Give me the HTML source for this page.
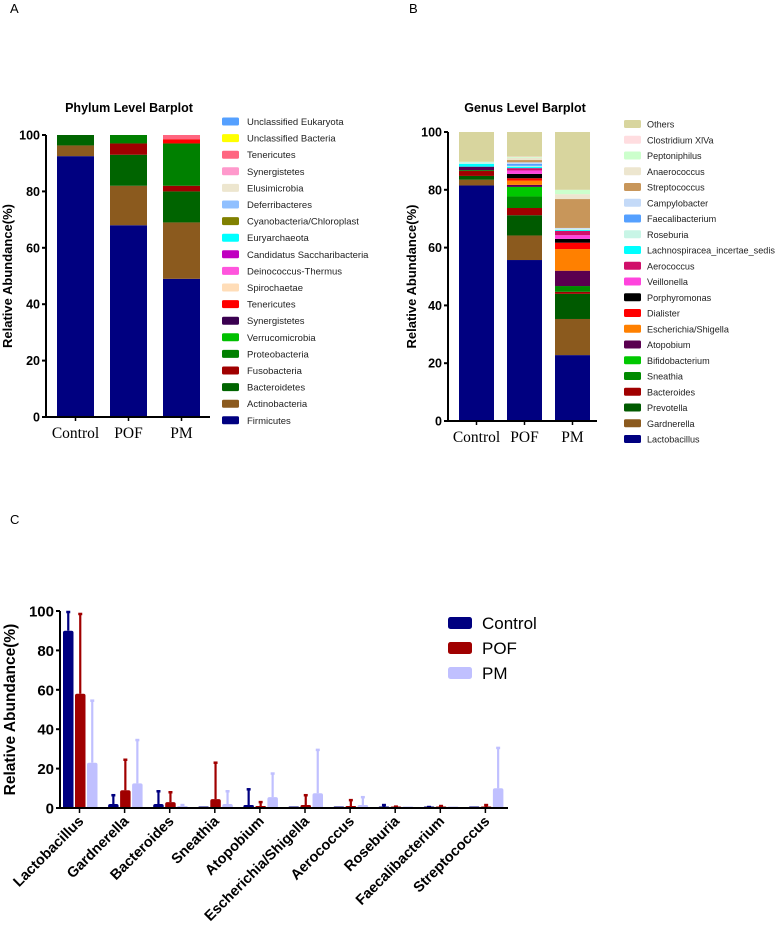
<!DOCTYPE html>
<html><head><meta charset="utf-8"><style>
html,body{margin:0;padding:0;background:#fff;}
svg{display:block;font-family:"Liberation Sans",Arial,sans-serif;}
</style></head><body>
<svg id="svg" width="778" height="928" viewBox="0 0 778 928" xmlns="http://www.w3.org/2000/svg">
<text x="10" y="13" font-size="13">A</text>
<text x="409" y="13" font-size="13">B</text>
<text x="10" y="524" font-size="13">C</text>
<g id="pa"></g>
<g id="pb"></g>
<g id="pc"></g>
</svg>
<script>
const NS="http://www.w3.org/2000/svg";
function mk(p,tag,a,txt){const e=document.createElementNS(NS,tag);for(const k in a)e.setAttribute(k,a[k]);if(txt!=null)e.textContent=txt;p.appendChild(e);return e;}

// ---------- Panel A data ----------
const groupsA=["Control","POF","PM"];
const phyla=["Firmicutes","Actinobacteria","Bacteroidetes","Fusobacteria","Proteobacteria","Verrucomicrobia","Synergistetes","Tenericutes","Spirochaetae","Deinococcus-Thermus","Candidatus Saccharibacteria","Euryarchaeota","Cyanobacteria/Chloroplast","Deferribacteres","Elusimicrobia","Synergistetes","Tenericutes","Unclassified Bacteria","Unclassified Eukaryota"];
const phylaColors=["#000080","#8B5A1E","#006400","#A00000","#008000","#00C000","#3A0050","#FF0000","#FFDDB8","#FF55DD","#C000C0","#00FFFF","#808000","#90C0FF","#EDE6CF","#FF99CC","#FF6680","#FFFF00","#55A0FF"];
const phylaControl=[92.5,3.8,3.7,0,0,0,0,0,0,0,0,0,0,0,0,0,0,0,0];
const phylaPOF=[68,14,11,4,3,0,0,0,0,0,0,0,0,0,0,0,0,0,0];
const phylaPM=[49,20,11,2,15,0,0,1.5,0,0,0,0,0,0,0,0,1.5,0,0];
const yTicks=[0,20,40,60,80,100];

// ---------- Panel B data ----------
const genera=["Lactobacillus","Gardnerella","Prevotella","Bacteroides","Sneathia","Bifidobacterium","Atopobium","Escherichia/Shigella","Dialister","Porphyromonas","Veillonella","Aerococcus","Lachnospiracea_incertae_sedis","Roseburia","Faecalibacterium","Campylobacter","Streptococcus","Anaerococcus","Peptoniphilus","Clostridium XlVa","Others"];
const generaColors=["#000080","#8B5A1E","#005A00","#A00000","#008A00","#00C800","#5A0050","#FF8000","#FF0000","#000000","#FF44DD","#D0106A","#00FFFF","#C8F5E6","#55A0FF","#C4DAF8","#C8965A","#EDE6CF","#CCFFCC","#FFDDE0","#D8D59E"];
const genusControl=[81.5,2,1.3,1.7,0.3,0,1.2,0,0,0,0,0,1,0.7,0,0,0,0,0,0,10.3];
const genusPOF=[55.7,8.5,7,2.5,4,3.3,0.7,1.5,0.8,1.5,1.2,0.8,0.5,0.3,0.7,0.5,0.8,0.7,0.3,0.2,8.5];
const genusPM=[22.8,12.5,8.7,0.7,2,0,5.3,7.5,2.2,1.3,1.3,1.5,0.3,0.4,0,0.3,10,1.7,1.5,0,20];

// ---------- Panel C data ----------
const catsC=["Lactobacillus","Gardnerella","Bacteroides","Sneathia","Atopobium","Escherichia/Shigella","Aerococcus","Roseburia","Faecalibacterium","Streptococcus"];
const seriesC=["Control","POF","PM"];
const colorsC=["#000080","#A00000","#C0C0FF"];
const meanControl=[90,2,2,0,1.5,0.3,0,0.5,0.5,0.5];
const errControl=[100,7,9,0,10,0.3,0,2,1,0.5];
const meanPOF=[58,9,3,4.5,1,1.5,1,0.5,0.5,0.5];
const errPOF=[99,25,8.5,23.5,3.5,7,4.5,1.2,1.5,2];
const meanPM=[23,12.5,1,2,5.5,7.5,1.5,0.2,0.3,10];
const errPM=[55,35,2,9,18,30,6,0.2,0.3,31];
const ticksC=[0,20,40,60,80,100];

function stacked(g,o){
  const y=v=>o.y0-(v/100)*(o.y0-o.y100);
  mk(g,"text",{x:o.titleX,y:o.titleY,"font-size":12.5,"font-weight":"bold","text-anchor":"middle"},o.title);
  o.data.forEach((vals,gi)=>{
    let acc=0;const x=o.barX[0]+gi*o.step;
    vals.forEach((v,i)=>{if(v<=0)return;
      const r=mk(g,"rect",{x:x,y:y(acc+v),width:o.bw,height:y(acc)-y(acc+v),fill:o.colors[i]});
      
      
      acc+=v;});
    const t=mk(g,"text",{x:x+o.bw/2,y:o.y0+21,"font-size":15.5,"font-family":"Liberation Serif, serif","text-anchor":"middle"},o.groups[gi]);
    
    mk(g,"line",{x1:x+o.bw/2,x2:x+o.bw/2,y1:o.y0,y2:o.y0+4,stroke:"#000","stroke-width":1.5});
  });
  mk(g,"line",{x1:o.ax,x2:o.ax,y1:o.y100,y2:o.y0,stroke:"#000","stroke-width":2});
  mk(g,"line",{x1:o.ax,x2:o.axEnd,y1:o.y0,y2:o.y0,stroke:"#000","stroke-width":2});
  yTicks.forEach(t=>{mk(g,"line",{x1:o.ax-4,x2:o.ax,y1:y(t),y2:y(t),stroke:"#000","stroke-width":2});
    const l=mk(g,"text",{x:o.ax-6,y:y(t)+4.5,"font-size":12.5,"font-weight":"bold","text-anchor":"end"},t);
    });
  const yt=mk(g,"text",{x:0,y:0,"font-size":13,"font-weight":"bold","text-anchor":"middle",transform:`translate(${o.ytX},${(o.y0+o.y100)/2}) rotate(-90)`},"Relative Abundance(%)");
  
  const n=o.labels.length;
  for(let i=0;i<n;i++){const idx=n-1-i;const cy=o.legY0+i*o.legStep;
    const s=mk(g,"rect",{x:o.legX,y:cy-4,width:17,height:8,rx:1.5,fill:o.colors[idx]});
    
    const t=mk(g,"text",{x:o.legX+o.legTx,y:cy+3.5,"font-size":o.legFs,fill:"#222"},o.labels[idx]);
    }
}
stacked(document.getElementById("pa"),{y0:417,y100:135,ax:46,axEnd:210,barX:[57],step:53,bw:37,groups:groupsA,data:[phylaControl,phylaPOF,phylaPM],colors:phylaColors,labels:phyla,title:"Phylum Level Barplot",titleX:129,titleY:112,ytX:12,legX:222,legY0:121.5,legStep:16.6,legFs:9.5,legTx:25});
stacked(document.getElementById("pb"),{y0:421,y100:132,ax:448,axEnd:597,barX:[459],step:48,bw:35,groups:groupsA,data:[genusControl,genusPOF,genusPM],colors:generaColors,labels:genera,title:"Genus Level Barplot",titleX:525,titleY:112,ytX:416,legX:624,legY0:124,legStep:15.75,legFs:9.1,legTx:23});

// Panel C
(function(){
  const g=document.getElementById("pc");
  const y0=808,y100=611,ax=60,axEnd=508,t0=79.5,gs=45.1,bw=10.5,bs=12;
  const y=v=>y0-(v/100)*(y0-y100);
  const means=[meanControl,meanPOF,meanPM],errs=[errControl,errPOF,errPM];
  catsC.forEach((c,ci)=>{
    const tx=t0+ci*gs;
    seriesC.forEach((s,si)=>{
      const x=tx-16.5+si*bs;const m=means[si][ci],e=errs[si][ci];
      const cx=x+bw/2;
      if(e>m){mk(g,"line",{x1:cx,x2:cx,y1:y(m),y2:y(e),stroke:colorsC[si],"stroke-width":2.2});
        mk(g,"line",{x1:cx-2,x2:cx+2,y1:y(e)+1,y2:y(e)+1,stroke:colorsC[si],"stroke-width":2.5});}
      const h=Math.max(y0-y(m),1.5);
      const r=mk(g,"rect",{x:x,y:y0-h,width:bw,height:h+1,rx:Math.min(2,h/2),fill:colorsC[si]});
      
      
    });
    mk(g,"line",{x1:tx,x2:tx,y1:y0,y2:y0+5,stroke:"#000","stroke-width":1.5});
    const t=mk(g,"text",{x:0,y:0,"font-size":14.5,"font-weight":"bold","text-anchor":"end",transform:`translate(${tx+5},${y0+14}) rotate(-45)`},c);
    
  });
  mk(g,"line",{x1:ax,x2:ax,y1:y100,y2:y0,stroke:"#000","stroke-width":2});
  mk(g,"line",{x1:ax,x2:axEnd,y1:y0,y2:y0,stroke:"#000","stroke-width":2});
  ticksC.forEach(t=>{mk(g,"line",{x1:ax-4,x2:ax,y1:y(t),y2:y(t),stroke:"#000","stroke-width":2});
    const l=mk(g,"text",{x:ax-6,y:y(t)+5.5,"font-size":15,"font-weight":"bold","text-anchor":"end"},t);
    });
  const yt=mk(g,"text",{x:0,y:0,"font-size":15.5,"font-weight":"bold","text-anchor":"middle",transform:`translate(15,${(y0+y100)/2}) rotate(-90)`},"Relative Abundance(%)");
  
  seriesC.forEach((s,si)=>{const cy=623+si*25;
    const r=mk(g,"rect",{x:448,y:cy-6,width:24,height:12,rx:2.5,fill:colorsC[si]});
    
    const t=mk(g,"text",{x:482,y:cy+6,"font-size":17},s);
    });
})();
</script>
</body></html>
